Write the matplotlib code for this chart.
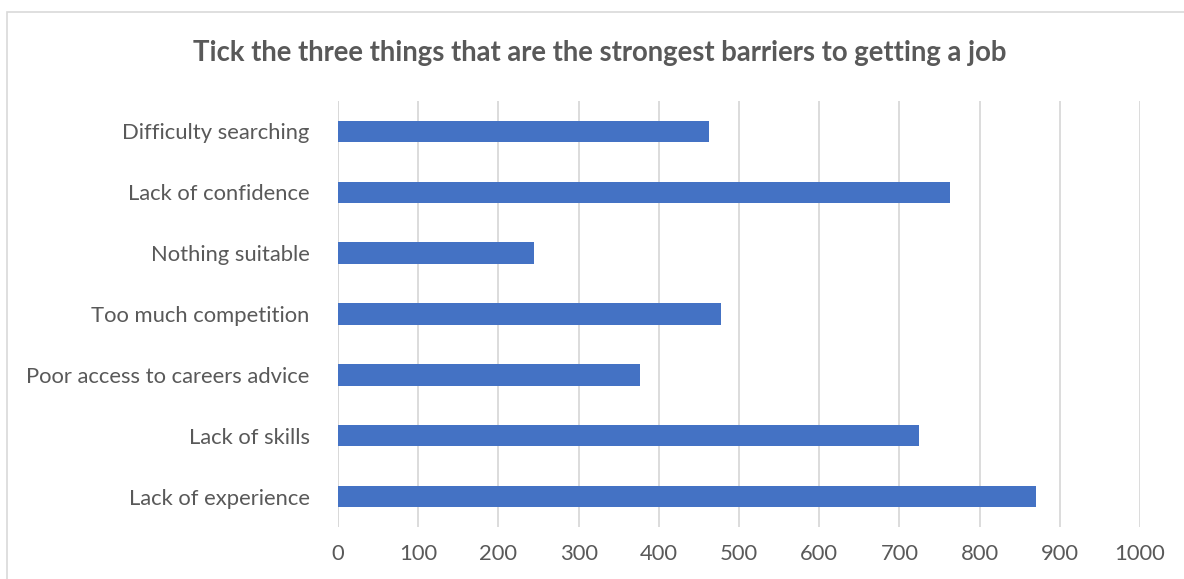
import matplotlib
matplotlib.use("Agg")
import matplotlib.pyplot as plt
from matplotlib.patches import Rectangle

categories = [
    "Difficulty searching",
    "Lack of confidence",
    "Nothing suitable",
    "Too much competition",
    "Poor access to careers advice",
    "Lack of skills",
    "Lack of experience",
]
values = [462, 763, 244, 477, 377, 725, 870]
x_ticks = [0, 100, 200, 300, 400, 500, 600, 700, 800, 900, 1000]
title = "Tick the three things that are the strongest barriers to getting a job"

W, H = 1184, 579
fig = plt.figure(figsize=(W / 100, H / 100), dpi=100)
fig.patch.set_facecolor("white")

# chart frame (runs past the right and bottom edges)
fig.patches.append(Rectangle((7 / W, -0.1), 1.2, 1 - 12.5 / H + 0.1,
                             transform=fig.transFigure, fill=False,
                             edgecolor="#d9d9d9", lw=1.2))

ax = fig.add_axes([338 / W, 1 - 527 / H, (1140 - 338) / W, (527 - 101) / H])
pos = list(range(len(categories)))
ax.barh(pos, values, height=0.35, color="#4472C4", zorder=3)
ax.set_ylim(len(categories) - 0.5, -0.5)
ax.set_xlim(0, 1000)
ax.set_xticks(x_ticks)
ax.set_xticklabels([str(t) for t in x_ticks])
ax.set_yticks(pos)
ax.set_yticklabels(categories)

font = "Lato"
for lab in ax.get_xticklabels() + ax.get_yticklabels():
    lab.set_fontfamily(font)
    lab.set_fontsize(15.8)
    lab.set_color("#595959")

ax.tick_params(axis="both", length=0)
ax.tick_params(axis="x", pad=12)
ax.tick_params(axis="y", pad=20.5)
ax.grid(axis="x", color="#d9d9d9", lw=1.3, zorder=0)
for s in ax.spines.values():
    s.set_visible(False)
ax.axvline(0, color="#d9d9d9", lw=1.3, zorder=1)

fig.text(600 / W, 1 - 53 / H, title, ha="center", va="center",
         fontsize=19.8, fontweight="bold", color="#595959", family=font)

fig.savefig("out.png", dpi=100)
